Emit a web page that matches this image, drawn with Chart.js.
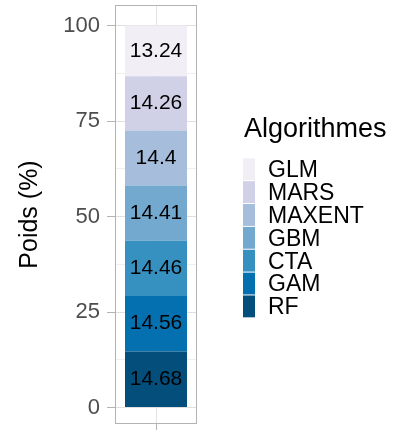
<!DOCTYPE html>
<html>
<head>
<meta charset="utf-8">
<script src="https://cdn.jsdelivr.net/npm/chart.js@4.4.0/dist/chart.umd.min.js"></script>
<style>
  html, body { margin: 0; padding: 0; background: #fff; }
  #wrap { width: 411px; height: 430px; position: relative; }
</style>
</head>
<body>
<div id="wrap"><canvas id="chart"></canvas></div>
<script>
const algorithms = ['GLM', 'MARS', 'MAXENT', 'GBM', 'CTA', 'GAM', 'RF'];
const weights = [13.24, 14.26, 14.4, 14.41, 14.46, 14.56, 14.68];
const colors = ['#f1eef6', '#d0d1e6', '#a6bddb', '#74a9cf', '#3690c0', '#0570b0', '#034e7b'];
const majorTicks = [0, 25, 50, 75, 100];
const minorTicks = [12.5, 37.5, 62.5, 87.5];
const yTitle = 'Poids (%)';
const legendTitle = 'Algorithmes';

const family = "'Liberation Sans', Arial, Helvetica, sans-serif";
const isMajor = v => majorTicks.includes(v);

// stacked bottom-up: RF first
const datasets = algorithms.map((name, i) => ({
    label: name,
    data: [weights[i]],
    backgroundColor: colors[i],
    borderWidth: 0,
    barPercentage: 0.756,
    categoryPercentage: 1
})).reverse();

// value labels in the middle of each segment
const segmentLabels = {
    id: 'segmentLabels',
    afterDatasetsDraw(chart) {
        const ctx = chart.ctx;
        ctx.save();
        ctx.font = '21px ' + family;
        ctx.fillStyle = '#000';
        ctx.textAlign = 'center';
        ctx.textBaseline = 'middle';
        chart.data.datasets.forEach((ds, i) => {
            chart.getDatasetMeta(i).data.forEach((bar, j) => {
                ctx.fillText(String(ds.data[j]), bar.x, (bar.y + bar.base) / 2);
            });
        });
        ctx.restore();
    }
};

// panel border + legend on the right
const panelAndLegend = {
    id: 'panelAndLegend',
    afterDraw(chart) {
        const ctx = chart.ctx;
        const a = chart.chartArea;
        ctx.save();
        ctx.strokeStyle = '#b3b3b3';
        ctx.lineWidth = 1;
        ctx.strokeRect(Math.round(a.left) + 0.5, Math.round(a.top) + 0.5,
            Math.round(a.right - a.left) - 1, Math.round(a.bottom - a.top) - 1);

        ctx.fillStyle = '#000';
        ctx.font = '27px ' + family;
        ctx.textAlign = 'left';
        ctx.textBaseline = 'alphabetic';
        ctx.fillText(legendTitle, 244, 137);

        const keyX = 243, keyW = 12, keyTop = 158.3, keyH = 22.86;
        ctx.font = '23px ' + family;
        ctx.textBaseline = 'middle';
        algorithms.forEach((name, i) => {
            const y = keyTop + i * keyH;
            ctx.fillStyle = colors[i];
            ctx.fillRect(keyX, y, keyW, keyH - 1);
            ctx.fillStyle = '#000';
            ctx.fillText(name, 268, y + keyH / 2 + 1);
        });
        ctx.restore();
    }
};

new Chart(document.getElementById('chart'), {
    type: 'bar',
    data: { labels: [''], datasets: datasets },
    options: {
        responsive: true,
        maintainAspectRatio: false,
        animation: false,
        layout: { padding: { top: 5, right: 214, left: 0, bottom: 0 } },
        plugins: { legend: { display: false }, tooltip: { enabled: false } },
        scales: {
            x: {
                stacked: true,
                offset: true,
                ticks: { display: false },
                grid: { offset: false, color: '#e3e3e3', tickColor: '#b3b3b3', tickLength: 6 },
                border: { display: false },
                afterFit: s => { s.height = 6; s.paddingLeft = 0; s.paddingRight = 0; }
            },
            y: {
                stacked: true,
                min: -4.3,
                max: 105.4,
                afterBuildTicks: s => {
                    s.ticks = majorTicks.concat(minorTicks).sort((a, b) => a - b).map(v => ({ value: v }));
                },
                ticks: {
                    autoSkip: false,
                    color: '#4d4d4d',
                    padding: 7,
                    font: { size: 22, family: family },
                    callback: v => isMajor(v) ? String(v) : ''
                },
                grid: {
                    color: c => isMajor(c.tick.value) ? '#e0e0e0' : '#efefef',
                    tickColor: c => isMajor(c.tick.value) ? '#b3b3b3' : 'rgba(0,0,0,0)',
                    tickLength: 8
                },
                border: { display: false },
                title: {
                    display: true,
                    text: yTitle,
                    color: '#000',
                    font: { size: 25, family: family },
                    padding: { top: 15, bottom: 0 }
                },
                // labels 0 and 100 sit inside the range, so no edge padding is needed
                afterFit: s => { s.width = 115; s.paddingTop = 0; s.paddingBottom = 0; }
            }
        }
    },
    plugins: [segmentLabels, panelAndLegend]
});
</script>
</body>
</html>
